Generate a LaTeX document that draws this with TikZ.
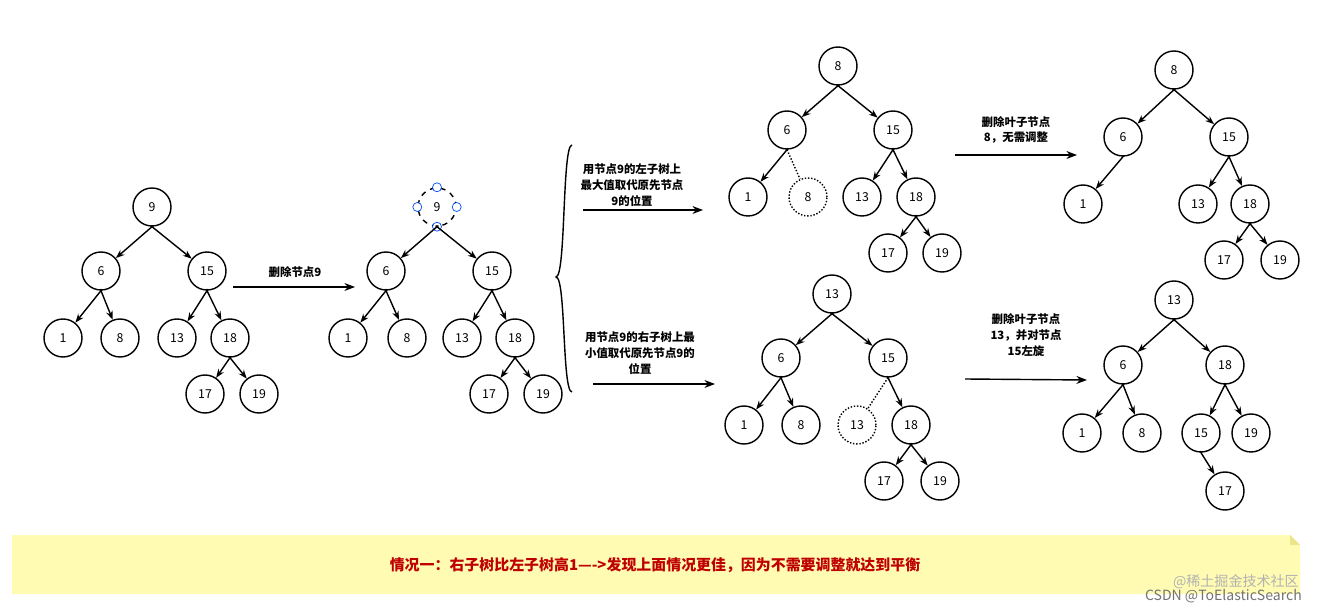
\documentclass[tikz,border=0pt]{standalone}
\usepackage{fontspec}
\setmainfont{Noto Sans CJK SC}
\usetikzlibrary{arrows.meta}
\begin{document}
\begin{tikzpicture}[x=0.02cm,y=-0.02cm,
  tn/.style={circle,draw,thick,minimum size=0.76cm,inner sep=0pt,font=\fontsize{7}{8}\selectfont},
  dn/.style={tn,densely dotted},
  ed/.style={thick,-{Stealth[length=5pt]},shorten <=-1pt},
  dd/.style={thick,densely dotted},
  ar/.style={thick,-{Stealth[length=6pt]}},
  lb/.style={align=center,font=\fontsize{6.5}{9}\selectfont\bfseries}]
\useasboundingbox (0,0) rectangle (1323,611);
% tree 1
\node[tn] (a9) at (152,207) {9};
\node[tn] (a6) at (101,271) {6};
\node[tn] (a15) at (207,271) {15};
\node[tn] (a1) at (63,338) {1};
\node[tn] (a8) at (120,338) {8};
\node[tn] (a13) at (177,338) {13};
\node[tn] (a18) at (230,338) {18};
\node[tn] (a17) at (205,394) {17};
\node[tn] (a19) at (259,394) {19};
\foreach \p/\c in {a9/a6,a9/a15,a6/a1,a6/a8,a15/a13,a15/a18,a18/a17,a18/a19} \draw[ed] (\p.south) -- (\c);
\coordinate (r1s) at (233,287); \coordinate (r1e) at (355,287);
\draw[ar] (r1s) -- (r1e);
\node[lb] (l1) at (295,272) {删除节点9};
% tree 2
\node[tn,dashed] (b9) at (437,207) {9};
\node[tn] (b6) at (386,271) {6};
\node[tn] (b15) at (492,271) {15};
\node[tn] (b1) at (348,338) {1};
\node[tn] (b8) at (407,338) {8};
\node[tn] (b13) at (462,338) {13};
\node[tn] (b18) at (515,338) {18};
\node[tn] (b17) at (489,394) {17};
\node[tn] (b19) at (543,394) {19};
\foreach \a in {north,south,east,west} \draw[blue!70!cyan,fill=white] (b9.\a) circle (4.5);
\foreach \p/\c in {b9/b6,b9/b15,b6/b1,b6/b8,b15/b13,b15/b18,b18/b17,b18/b19} \draw[ed] (\p.south) -- (\c);
% brace
\coordinate (bt) at (572,145); \coordinate (bb) at (572,392);
\draw[thick] (bt) .. controls (562,145) and (566,277) .. (556,277) .. controls (566,277) and (562,392) .. (bb);
% top branch
\node[lb] (l2) at (632,185) {用节点9的左子树上\\最大值取代原先节点\\9的位置};
\coordinate (r2s) at (583,210); \coordinate (r2e) at (703,210);
\draw[ar] (r2s) -- (r2e);
\node[tn] (c8) at (838,66) {8};
\node[tn] (c6) at (787,130) {6};
\node[tn] (c15) at (893,130) {15};
\node[tn] (c1) at (748,197) {1};
\node[dn] (c8b) at (808,197) {8};
\node[tn] (c13) at (862,197) {13};
\node[tn] (c18) at (916,197) {18};
\node[tn] (c17) at (888,253) {17};
\node[tn] (c19) at (942,253) {19};
\foreach \p/\c in {c8/c6,c8/c15,c6/c1,c15/c13,c15/c18,c18/c17,c18/c19} \draw[ed] (\p.south) -- (\c);
\draw[dd] (c6.south) -- (c8b);
\node[lb] (l3) at (1016,130) {删除叶子节点\\8，无需调整};
\coordinate (r3s) at (955,155); \coordinate (r3e) at (1077,155);
\draw[ar] (r3s) -- (r3e);
\node[tn] (d8) at (1174,70) {8};
\node[tn] (d6) at (1123,137) {6};
\node[tn] (d15) at (1229,137) {15};
\node[tn] (d1) at (1083,204) {1};
\node[tn] (d13) at (1198,204) {13};
\node[tn] (d18) at (1250,204) {18};
\node[tn] (d17) at (1224,260) {17};
\node[tn] (d19) at (1280,260) {19};
\foreach \p/\c in {d8/d6,d8/d15,d6/d1,d15/d13,d15/d18,d18/d17,d18/d19} \draw[ed] (\p.south) -- (\c);
% bottom branch
\node[lb] (l4) at (640,353) {用节点9的右子树上最\\小值取代原先节点9的\\位置};
\coordinate (r4s) at (593,384); \coordinate (r4e) at (715,384);
\draw[ar] (r4s) -- (r4e);
\node[tn] (e13) at (832,294) {13};
\node[tn] (e6) at (781,358) {6};
\node[tn] (e15) at (888,358) {15};
\node[tn] (e1) at (744,425) {1};
\node[tn] (e8) at (801,425) {8};
\node[dn] (e13b) at (857,425) {13};
\node[tn] (e18) at (911,425) {18};
\node[tn] (e17) at (884,481) {17};
\node[tn] (e19) at (940,481) {19};
\foreach \p/\c in {e13/e6,e13/e15,e6/e1,e6/e8,e15/e18,e18/e17,e18/e19} \draw[ed] (\p.south) -- (\c);
\draw[dd] (e15.south) -- (e13b);
\node[lb] (l5) at (1026,335) {删除叶子节点\\13，并对节点\\15左旋};
\coordinate (r5s) at (965,379); \coordinate (r5e) at (1087,380);
\draw[ar] (r5s) -- (r5e);
\node[tn] (f13) at (1174,300) {13};
\node[tn] (f6) at (1123,365) {6};
\node[tn] (f18) at (1225,365) {18};
\node[tn] (f1) at (1082,433) {1};
\node[tn] (f8) at (1142,433) {8};
\node[tn] (f15) at (1201,433) {15};
\node[tn] (f19) at (1251,433) {19};
\node[tn] (f17) at (1225,491) {17};
\foreach \p/\c in {f13/f6,f13/f18,f6/f1,f6/f8,f18/f15,f18/f19,f15/f17} \draw[ed] (\p.south) -- (\c);
% banner
\fill[yellow!30] (12,535) -- (1290,535) -- (1300,545) -- (1300,594) -- (12,594) -- cycle;
\fill[yellow!55!olive!40] (1290,535) -- (1290,545) -- (1300,545) -- cycle;
\node[font=\fontsize{8.5}{10}\selectfont\bfseries,text=red!75!black] (bt1) at (655,565) {情况一：右子树比左子树高1---->发现上面情况更佳，因为不需要调整就达到平衡};
\node[anchor=east,text=gray!60,font=\fontsize{8}{9}\selectfont] (w1) at (1305,582) {@稀土掘金技术社区};
\node[anchor=east,text=gray!90!black,font=\fontsize{8}{9}\selectfont] (w2) at (1308,596) {CSDN @ToElasticSearch};
\end{tikzpicture}
\end{document}
